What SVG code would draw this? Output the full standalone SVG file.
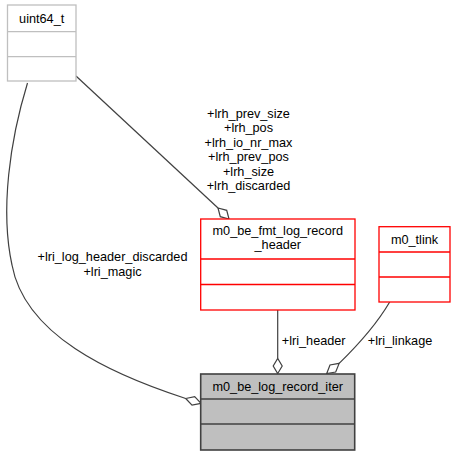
<svg xmlns="http://www.w3.org/2000/svg" width="456" height="456" viewBox="0 0 456 456">
<style>
text{font-family:"Liberation Sans",Arial,Helvetica,sans-serif;font-size:12.7px;fill:#000;text-anchor:middle}
.grey rect,.grey line{fill:#fff;stroke:#bfbfbf;stroke-width:1.3}
.grey line,.red line,.main line{fill:none}
.red rect,.red line{fill:#fff;stroke:#ff0000;stroke-width:1.3}
.main rect{fill:#bfbfbf;stroke:#404040;stroke-width:1.6}
.main line{stroke:#404040;stroke-width:1.6}
.edge{fill:none;stroke:#404040;stroke-width:1.2}
.dia{fill:#fff;stroke:#404040;stroke-width:1.2}
</style>
<rect width="456" height="456" fill="#fff"/>
<g id="connectors">
  <path class="edge" d="M277.7,310 L277.7,358.5"/>
  <polygon class="dia" points="277.7,373.5 282.2,366 277.7,358.5 273.2,366"/>
  <text x="313.7" y="344.5">+lri_header</text>
  <path class="edge" d="M389.7,302 C378,322 358,345 339.15,363.4"/>
  <polygon class="dia" points="326.7,373.5 335.7,372 339.15,363.4 330,365"/>
  <text x="400" y="344.5">+lri_linkage</text>
  <path class="edge" d="M76,76 L218,208"/>
  <polygon class="dia" points="229,219 220.3,216.7 218,208 226.7,210.3"/>
  <text x="248.5" y="117.5">+lrh_prev_size</text>
  <text x="248.5" y="132">+lrh_pos</text>
  <text x="248.5" y="146.5">+lrh_io_nr_max</text>
  <text x="248.5" y="161">+lrh_prev_pos</text>
  <text x="248.5" y="175.5">+lrh_size</text>
  <text x="248.5" y="190">+lrh_discarded</text>
  <path class="edge" d="M27.5,83 C10,140 0,210 12,265 C25,335 110,374 185.7,398.5"/>
  <polygon class="dia" points="201,403.3 192,405.2 185.7,398.5 194.7,396.6"/>
  <text x="112.5" y="261">+lri_log_header_discarded</text>
  <text x="112.5" y="275.5">+lri_magic</text>
</g>
<g id="uint64_t" class="grey">
  <rect x="7.5" y="5" width="68.5" height="76"/>
  <line x1="7.5" y1="31.7" x2="76" y2="31.7"/>
  <line x1="7.5" y1="56.7" x2="76" y2="56.7"/>
  <text x="41.7" y="23">uint64_t</text>
</g>
<g id="m0_be_fmt_log_record_header" class="red">
  <rect x="200.7" y="219" width="154.3" height="91"/>
  <line x1="200.7" y1="259" x2="355" y2="259"/>
  <line x1="200.7" y1="284.5" x2="355" y2="284.5"/>
  <text x="277.8" y="234.5">m0_be_fmt_log_record</text>
  <text x="277.8" y="249">_header</text>
</g>
<g id="m0_tlink" class="red">
  <rect x="379" y="226.7" width="71" height="75.3"/>
  <line x1="379" y1="252" x2="450" y2="252"/>
  <line x1="379" y1="277" x2="450" y2="277"/>
  <text x="414.5" y="244">m0_tlink</text>
</g>
<g id="m0_be_log_record_iter" class="main">
  <rect x="200.7" y="374" width="154" height="76"/>
  <line x1="200.7" y1="399" x2="354.7" y2="399"/>
  <line x1="200.7" y1="424" x2="354.7" y2="424"/>
  <text x="277.7" y="391">m0_be_log_record_iter</text>
</g>
</svg>
